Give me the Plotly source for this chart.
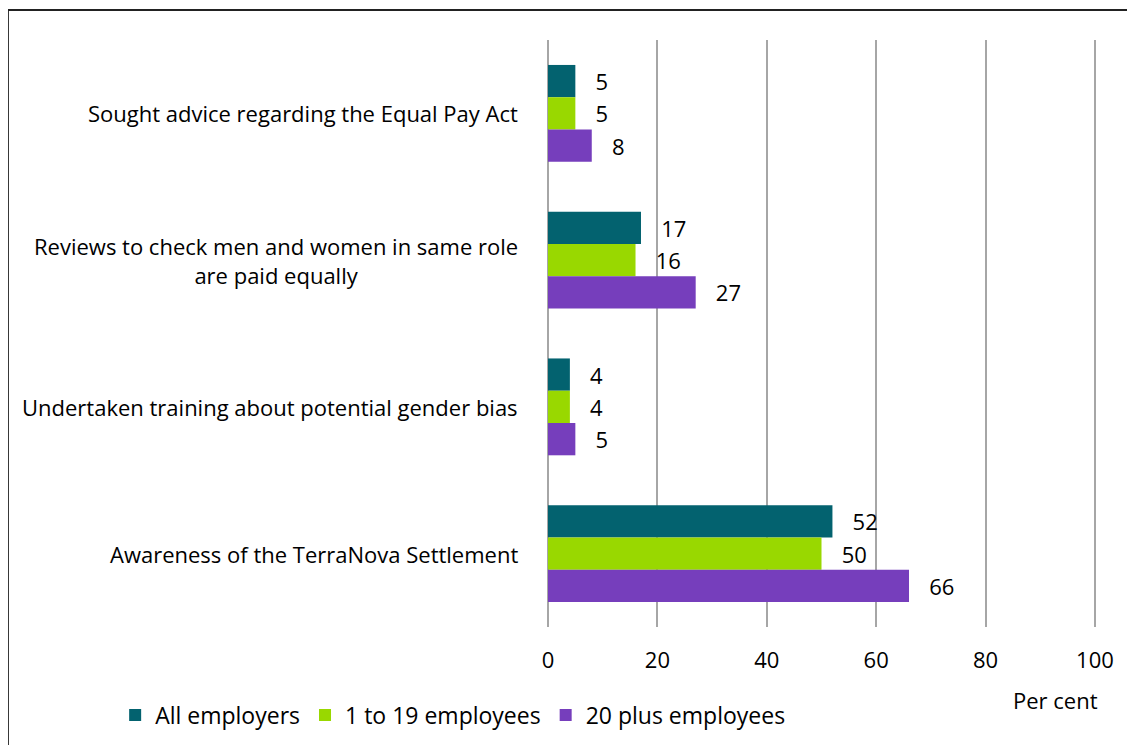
import plotly.graph_objects as go

# survey data
categories = [
    "Sought advice regarding the Equal Pay Act",
    "Reviews to check men and women in same role<br>are paid equally",
    "Undertaken training about potential gender bias",
    "Awareness of the TerraNova Settlement",
]
all_employers = [5, 17, 4, 52]
small_employers = [5, 16, 4, 50]
large_employers = [8, 27, 5, 66]
series_names = ["All employers", "1 to 19 employees", "20 plus employees"]
colours = ["#03626F", "#99D800", "#763EBC"]
x_ticks = [0, 20, 40, 60, 80, 100]

FONT = "Open Sans"
FS = 22
fig = go.Figure()

for name, vals, col in zip(series_names, [all_employers, small_employers, large_employers], colours):
    fig.add_trace(go.Bar(
        y=categories,
        x=vals,
        name=name,
        orientation="h",
        marker_color=col,
        marker_line_width=0,
        text=vals,
        texttemplate="\u00a0\u00a0\u00a0%{x}",
        textposition="outside",
        textfont=dict(size=FS, color="black", family=FONT),
        cliponaxis=False,
    ))

# category labels, centred multi-line like the original
for c in categories:
    fig.add_annotation(
        x=0, xref="paper", y=c, yref="y",
        text=c, showarrow=False, xanchor="right", align="center",
        xshift=-28, font=dict(size=FS, color="black", family=FONT),
    )

fig.add_annotation(
    x=1.004, xref="paper", y=-0.124, yref="paper",
    text="Per cent", showarrow=False, xanchor="right", yanchor="middle",
    font=dict(size=FS, color="black", family=FONT),
)

# outer frame (top and left edges visible)
fig.add_shape(type="line", xref="paper", yref="paper",
              x0=-0.982, x1=1.2, y0=1.0511, y1=1.0511,
              line=dict(color="#222222", width=2))
fig.add_shape(type="line", xref="paper", yref="paper",
              x0=-0.982, x1=-0.982, y0=1.0511, y1=-0.3,
              line=dict(color="#222222", width=2))

fig.update_layout(
    width=1135, height=745,
    margin=dict(l=540, r=45, t=32, b=126),
    plot_bgcolor="white", paper_bgcolor="white",
    barmode="group", bargap=0.34, bargroupgap=0,
    font=dict(family=FONT, size=FS, color="black"),
    showlegend=True,
    legend=dict(orientation="h", x=-0.787, y=-0.15, xanchor="left", yanchor="middle",
                font=dict(size=23, family=FONT), itemwidth=30, tracegroupgap=0),
    xaxis=dict(range=[0, 100.55], tickvals=x_ticks, showgrid=True, gridcolor="#A6A6A6",
               gridwidth=2, zeroline=True, zerolinecolor="#A6A6A6", zerolinewidth=2,
               showline=False, ticklabelstandoff=18,
               tickfont=dict(size=FS, family=FONT)),
    yaxis=dict(autorange="reversed", showticklabels=False, showgrid=False,
               zeroline=False, showline=False),
)

fig.write_html("out.html")
